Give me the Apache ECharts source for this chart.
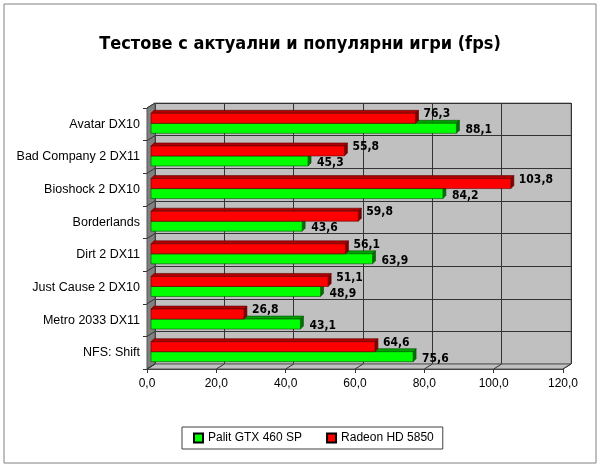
<!DOCTYPE html>
<html>
<head>
<meta charset="utf-8">
<script src="https://cdn.jsdelivr.net/npm/echarts@6/dist/echarts.min.js"></script>
<style>
  html, body { margin: 0; padding: 0; background: #fff; }
  #chart { width: 600px; height: 467px; }
</style>
</head>
<body>
<div id="chart"></div>
<script>
// data
var categories = ['Avatar DX10', 'Bad Company 2 DX11', 'Bioshock 2 DX10', 'Borderlands',
                  'Dirt 2 DX11', 'Just Cause 2 DX10', 'Metro 2033 DX11', 'NFS: Shift'];
var palitGtx460 = [88.1, 45.3, 84.2, 43.6, 63.9, 48.9, 43.1, 75.6];
var radeonHd5850 = [76.3, 55.8, 103.8, 59.8, 56.1, 51.1, 26.8, 64.6];
var seriesNames = ['Palit GTX 460 SP', 'Radeon HD 5850'];

// layout of the front plane and the 3d offset of the back wall
var F = { l: 147, r: 563, t: 108, b: 369 };
var DX = 8, DY = -5;
var B = { l: F.l + DX, r: F.r + DX, t: F.t + DY, b: F.b + DY };

var chart = echarts.init(document.getElementById('chart'));

function fmt(v) {
	return v.toFixed(1).replace('.', ',');
}

function makeRender(pos, front, top, side, edge) {
	return function (params, api) {
		var v = api.value(0), c = api.value(1);
		var p0 = api.coord([0, c]), p1 = api.coord([v, c]);
		var h = 10, d = 3;
		var yc = p0[1] - 1;
		var y0 = pos === 'top' ? yc - h : yc;
		var y1 = y0 + h;
		var x0 = p0[0] + 4, x1 = p1[0] + 4;
		var lbl = pos === 'top'
			? { x: x1 + d + 5, y: y0 + 1 }
			: { x: x1 + d + 6, y: (y0 + y1) / 2 + 2 };
		return {
			type: 'group',
			children: [
				{ type: 'polygon', shape: { points: [[x0, y0], [x1, y0], [x1 + d, y0 - d], [x0 + d, y0 - d]] },
				  style: { fill: top, stroke: edge, lineWidth: 0.6 } },
				{ type: 'polygon', shape: { points: [[x1, y0], [x1 + d, y0 - d], [x1 + d, y1 - d], [x1, y1]] },
				  style: { fill: side, stroke: edge, lineWidth: 0.6 } },
				{ type: 'rect', shape: { x: x0, y: y0, width: x1 - x0, height: h },
				  style: { fill: front, stroke: edge, lineWidth: 0.6 } },
				{ type: 'text', x: lbl.x, y: lbl.y,
				  style: { text: fmt(v), fill: '#000', font: 'bold 12px "DejaVu Sans Condensed"',
				           textAlign: 'left', textVerticalAlign: 'middle' } }
			]
		};
	};
}

function toData(arr) {
	var out = [];
	for (var i = 0; i < arr.length; i++) out.push([arr[i], i]);
	return out;
}

// decoration: side wall, floor, slanted connectors
var deco = [];
deco.push({ type: 'rect', shape: { x: 4, y: 4, width: 592, height: 459 },
            style: { fill: 'none', stroke: '#808080', lineWidth: 1 }, z: 0 });
deco.push({ type: 'polygon', shape: { points: [[F.l, F.t], [B.l, B.t], [B.l, B.b], [F.l, F.b]] },
            style: { fill: '#808080', stroke: '#555' }, z: 1 });
deco.push({ type: 'polygon', shape: { points: [[F.l, F.b], [F.r, F.b], [B.r, B.b], [B.l, B.b]] },
            style: { fill: '#c0c0c0', stroke: '#555' }, z: 1 });
for (var k = 0; k <= categories.length; k++) {
	var yy = F.t + k * (F.b - F.t) / categories.length;
	deco.push({ type: 'line', shape: { x1: F.l, y1: yy, x2: B.l, y2: yy + DY },
	            style: { stroke: '#333', lineWidth: 1 }, z: 2 });
}
for (var j = 0; j <= 6; j++) {
	var xx = F.l + j * (F.r - F.l) / 6;
	deco.push({ type: 'line', shape: { x1: xx, y1: F.b, x2: xx + DX, y2: F.b + DY },
	            style: { stroke: '#333', lineWidth: 1 }, z: 2 });
}

var option = {
	backgroundColor: '#fff',
	animation: false,
	title: {
		text: 'Тестове с актуални и популярни игри (fps)',
		left: 'center',
		top: 30,
		textStyle: { fontFamily: 'DejaVu Sans Condensed', fontWeight: 'bold', fontSize: 18, color: '#000' }
	},
	legend: {
		data: seriesNames,
		left: 182,
		top: 427,
		orient: 'horizontal',
		padding: [5, 9, 5, 11],
		itemGap: 24,
		itemWidth: 9,
		itemHeight: 9,
		borderColor: '#404040',
		borderWidth: 1,
		icon: 'rect',
		textStyle: { fontFamily: 'Liberation Sans', fontSize: 12, color: '#000' }
	},
	graphic: deco,
	grid: [
		{ left: B.l, right: 600 - B.r, top: B.t, bottom: 467 - B.b,
		  show: true, backgroundColor: '#c0c0c0', borderColor: '#808080', borderWidth: 1 },
		{ left: F.l, right: 600 - F.r, top: F.t, bottom: 467 - F.b, show: false }
	],
	xAxis: [
		{ gridIndex: 0, type: 'value', min: 0, max: 120, interval: 20,
		  axisLabel: { show: false }, axisTick: { show: false }, axisLine: { show: false },
		  splitLine: { show: true, lineStyle: { color: '#333', width: 1 } } },
		{ gridIndex: 1, type: 'value', min: 0, max: 120, interval: 20,
		  axisLine: { show: true, lineStyle: { color: '#333' } },
		  axisTick: { show: true, length: 4, lineStyle: { color: '#333' } },
		  splitLine: { show: false },
		  axisLabel: { formatter: fmt, margin: 9, color: '#000', fontFamily: 'Liberation Sans', fontSize: 12 } }
	],
	yAxis: [
		{ gridIndex: 0, type: 'category', data: categories, inverse: true,
		  axisLabel: { show: false }, axisTick: { show: false }, axisLine: { show: false },
		  splitLine: { show: true, lineStyle: { color: '#333', width: 1 } } },
		{ gridIndex: 1, type: 'category', data: categories, inverse: true,
		  axisLine: { show: true, lineStyle: { color: '#333' } },
		  axisTick: { show: true, length: 4, lineStyle: { color: '#333' } },
		  axisLabel: { margin: 7, color: '#000', fontFamily: 'Liberation Sans', fontSize: 12.5 } }
	],
	series: [
		{
			name: seriesNames[0],
			type: 'custom',
			xAxisIndex: 1, yAxisIndex: 1,
			encode: { x: 0, y: 1 },
			itemStyle: { color: '#00ff00', borderColor: '#000', borderWidth: 1 },
			renderItem: makeRender('bottom', '#00ff00', '#00a000', '#007000', '#005000'),
			data: toData(palitGtx460),
			z: 5
		},
		{
			name: seriesNames[1],
			type: 'custom',
			xAxisIndex: 1, yAxisIndex: 1,
			encode: { x: 0, y: 1 },
			itemStyle: { color: '#ff0000', borderColor: '#000', borderWidth: 1 },
			renderItem: makeRender('top', '#ff0000', '#b00000', '#800000', '#600000'),
			data: toData(radeonHd5850),
			z: 6
		}
	]
};

chart.setOption(option);
</script>
</body>
</html>
